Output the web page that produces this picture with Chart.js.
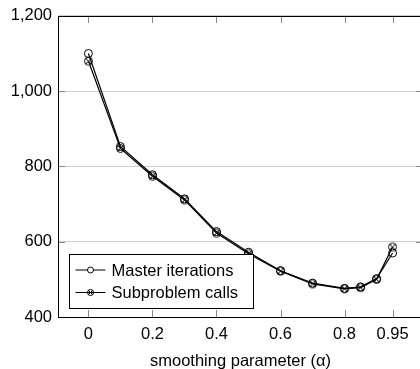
<!DOCTYPE html>
<html>
<head>
<meta charset="utf-8">
<script src="https://cdn.jsdelivr.net/npm/chart.js@4/dist/chart.umd.min.js"></script>
<style>
    html, body { margin: 0; padding: 0; background: #fff; overflow: hidden; }
    #wrap { width: 420px; height: 369px; overflow: hidden; }
    canvas { display: block; }
</style>
</head>
<body>
<div id="wrap"><canvas id="chart" width="430" height="369"></canvas></div>
<script>
// Data
const alphas = [0, 0.1, 0.2, 0.3, 0.4, 0.5, 0.6, 0.7, 0.8, 0.85, 0.9, 0.95];
const masterIterations = [1100, 853, 778, 714, 627, 572, 523, 490, 476, 480, 502, 570];
const subproblemCalls = [1080, 848, 774, 711, 623, 568, 522, 488, 475, 478, 500, 586];
const xTicks = [0, 0.2, 0.4, 0.6, 0.8, 0.95];
const yTicks = [400, 600, 800, 1000, 1200];

const FONT = { family: "'Liberation Sans', Arial, sans-serif", size: 16.5 };

// circle with an x inside (pgfplots "otimes" mark)
function makeOtimes(r) {
    const s = Math.ceil(r * 2 + 3);
    const c = document.createElement('canvas');
    c.width = s; c.height = s;
    const g = c.getContext('2d');
    const m = s / 2;
    g.strokeStyle = '#000';
    g.lineWidth = 1;
    g.beginPath();
    g.arc(m, m, r, 0, Math.PI * 2);
    g.stroke();
    const d = r * Math.SQRT1_2;
    g.beginPath();
    g.moveTo(m - d, m - d); g.lineTo(m + d, m + d);
    g.moveTo(m + d, m - d); g.lineTo(m - d, m + d);
    g.stroke();
    return c;
}
const otimes = makeOtimes(4);
const otimesSmall = makeOtimes(3);

function drawMark(ctx, style, x, y) {
    if (style === 'circle') {
        ctx.beginPath();
        ctx.arc(x, y, 3, 0, Math.PI * 2);
        ctx.fillStyle = '#fff';
        ctx.fill();
        ctx.stroke();
    } else {
        ctx.drawImage(otimesSmall, x - otimesSmall.width / 2, y - otimesSmall.height / 2);
    }
}

// frame, inward tick marks and the legend box
const framePlugin = {
    id: 'frame',
    afterDraw(chart) {
        const { ctx, chartArea: a, scales } = chart;
        ctx.save();
        ctx.strokeStyle = '#888';
        ctx.lineWidth = 1;
        ctx.beginPath();
        xTicks.forEach(v => {
            const px = Math.round(scales.x.getPixelForValue(v)) + 0.5;
            ctx.moveTo(px, a.top); ctx.lineTo(px, a.top + 7);
            ctx.moveTo(px, a.bottom); ctx.lineTo(px, a.bottom - 7);
        });
        yTicks.forEach(v => {
            const py = Math.round(scales.y.getPixelForValue(v)) + 0.5;
            ctx.moveTo(a.left, py); ctx.lineTo(a.left + 7, py);
            ctx.moveTo(a.right, py); ctx.lineTo(a.right - 7, py);
        });
        ctx.stroke();

        ctx.strokeStyle = '#000';
        ctx.strokeRect(Math.round(a.left) + 0.5, Math.round(a.top) + 0.5,
            Math.round(a.right - a.left), Math.round(a.bottom - a.top));

        // legend
        const lx = Math.round(a.left) + 11.5;
        const lb = Math.round(a.bottom) - 8.5;
        const lw = 184, lh = 54;
        const ly = lb - lh;
        ctx.fillStyle = '#fff';
        ctx.fillRect(lx, ly, lw, lh);
        ctx.strokeRect(lx, ly, lw, lh);
        ctx.font = FONT.size + 'px ' + FONT.family;
        ctx.textBaseline = 'middle';
        chart.data.datasets.forEach((ds, i) => {
            const cy = ly + 15.5 + i * 22.5;
            ctx.strokeStyle = '#000';
            ctx.lineWidth = 1;
            ctx.beginPath();
            ctx.moveTo(lx + 6, cy); ctx.lineTo(lx + 36, cy);
            ctx.stroke();
            drawMark(ctx, ds.pointStyle, lx + 21, cy);
            ctx.fillStyle = '#000';
            ctx.fillText(ds.label, lx + 42, cy + 1);
        });
        ctx.restore();
    }
};

new Chart(document.getElementById('chart'), {
    type: 'line',
    data: {
        datasets: [
            {
                label: 'Master iterations',
                data: alphas.map((a, i) => ({ x: a, y: masterIterations[i] })),
                borderColor: '#000',
                borderWidth: 1.2,
                pointStyle: 'circle',
                pointRadius: 4,
                pointBorderWidth: 1,
                pointBorderColor: '#000',
                pointBackgroundColor: 'rgba(255,255,255,0)',
                tension: 0,
                order: 2
            },
            {
                label: 'Subproblem calls',
                data: alphas.map((a, i) => ({ x: a, y: subproblemCalls[i] })),
                borderColor: '#000',
                borderWidth: 1.2,
                pointStyle: otimes,
                pointRadius: 4,
                tension: 0,
                order: 1
            }
        ]
    },
    options: {
        responsive: false,
        animation: false,
        layout: { padding: { top: 15, right: 7, left: 0, bottom: 0 } },
        plugins: { legend: { display: false }, tooltip: { enabled: false } },
        scales: {
            x: {
                type: 'linear',
                min: -0.095,
                max: 1.045,
                afterBuildTicks: scale => { scale.ticks = xTicks.map(v => ({ value: v })); },
                afterFit: scale => { scale.height = 52; },
                grid: { display: false },
                border: { display: false },
                ticks: {
                    color: '#000',
                    font: FONT,
                    padding: 0,
                    maxRotation: 0,
                    autoSkip: false,
                    callback: v => String(v)
                },
                title: {
                    display: true,
                    text: 'smoothing parameter (α)',
                    color: '#000',
                    font: FONT,
                    padding: { top: 0, bottom: -2 }
                }
            },
            y: {
                min: 400,
                max: 1200,
                afterBuildTicks: scale => { scale.ticks = yTicks.map(v => ({ value: v })); },
                afterFit: scale => { scale.width = 58; },
                grid: { color: '#cfcfcf', drawTicks: false },
                border: { display: false },
                ticks: {
                    color: '#000',
                    font: FONT,
                    padding: 6,
                    callback: v => v.toLocaleString('en-US')
                }
            }
        }
    },
    plugins: [framePlugin]
});
</script>
</body>
</html>
